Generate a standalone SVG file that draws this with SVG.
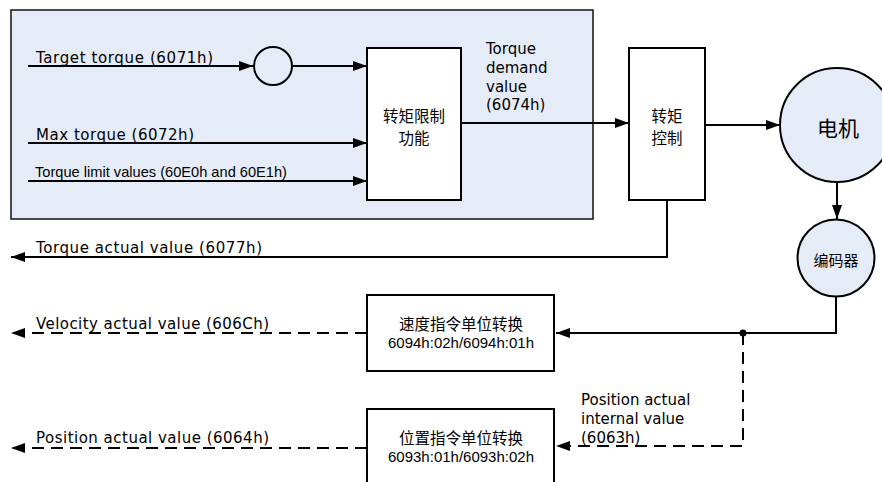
<svg xmlns="http://www.w3.org/2000/svg" width="882" height="482" viewBox="0 0 882 482">
<style>
.ln{stroke:#000;stroke-width:2;fill:none}
.dash{stroke:#000;stroke-width:2;fill:none;stroke-dasharray:12 7}
.box{fill:#fff;stroke:#000;stroke-width:2}
.bl{fill:#e6ecf7;stroke:#000;stroke-width:2}
.lab{font-family:"DejaVu Sans",Verdana,sans-serif;font-size:15px;fill:#000}
.cjk{font-family:"Noto Sans CJK SC","Noto Sans",sans-serif;fill:#000;text-anchor:middle}
.num{font-family:"Liberation Sans",Arial,sans-serif;font-size:15px;fill:#000;text-anchor:middle}
</style>
<defs>
<marker id="ah" markerUnits="userSpaceOnUse" markerWidth="15" markerHeight="11" refX="14" refY="5" orient="auto">
<path d="M0,0 L14,5 L0,10 z" fill="#000"/>
</marker>
</defs>
<rect x="0" y="0" width="882" height="482" fill="#fff"/>
<g id="area"><rect x="11" y="10" width="582" height="209" fill="#e6ecf7" stroke="#111" stroke-width="1.5"/></g>

<g id="connectors">
<line class="ln" x1="28" y1="66" x2="253" y2="66" marker-end="url(#ah)"/>
<line class="ln" x1="292" y1="66" x2="367" y2="66" marker-end="url(#ah)"/>
<line class="ln" x1="28" y1="143" x2="367" y2="143" marker-end="url(#ah)"/>
<line class="ln" x1="28" y1="181" x2="367" y2="181" marker-end="url(#ah)"/>
<line class="ln" x1="461" y1="123" x2="629" y2="123" marker-end="url(#ah)"/>
<line class="ln" x1="705" y1="125" x2="780" y2="125" marker-end="url(#ah)"/>
<line class="ln" x1="837" y1="182" x2="837" y2="219" marker-end="url(#ah)"/>
<polyline class="ln" points="667,200 667,257 11,257" marker-end="url(#ah)"/>
<polyline class="ln" points="836,297 836,333 556,333" marker-end="url(#ah)"/>
<circle cx="743" cy="333" r="3.5" fill="#000"/>
<polyline class="dash" points="743,333 743,446 556,446" marker-end="url(#ah)"/>
<line class="dash" x1="367" y1="333" x2="11" y2="333" marker-end="url(#ah)"/>
<line class="dash" x1="367" y1="448" x2="11" y2="448" marker-end="url(#ah)"/>
</g>

<g id="labels">
<text class="lab" x="36" y="63" textLength="177" lengthAdjust="spacing">Target torque (6071h)</text>
<text class="lab" x="36" y="140" textLength="158" lengthAdjust="spacing">Max torque (6072h)</text>
<text x="35" y="177" font-family="Liberation Sans, Arial, sans-serif" font-size="15" textLength="252" lengthAdjust="spacingAndGlyphs">Torque limit values (60E0h and 60E1h)</text>
<text class="lab" x="36" y="253" textLength="226" lengthAdjust="spacing">Torque actual value (6077h)</text>
<text class="lab" x="36" y="329" textLength="233" lengthAdjust="spacing">Velocity actual value (606Ch)</text>
<text class="lab" x="36" y="443" textLength="233" lengthAdjust="spacing">Position actual value (6064h)</text>
<g class="lab">
<text x="486" y="54">Torque</text>
<text x="486" y="73">demand</text>
<text x="486" y="92">value</text>
<text x="486" y="110">(6074h)</text>
</g>
<g class="lab">
<text x="581" y="405">Position actual</text>
<text x="581" y="424">internal value</text>
<text x="581" y="443">(6063h)</text>
</g>
</g>

<g id="sum"><circle cx="273" cy="66" r="19" fill="none" stroke="#000" stroke-width="2"/></g>

<g id="limit">
<rect class="box" x="367" y="48" width="94" height="152"/>
<text class="cjk" x="414" y="122" font-size="15.5">转矩限制</text>
<text class="cjk" x="414" y="144" font-size="15.5">功能</text>
</g>

<g id="torquectrl">
<rect class="box" x="629" y="48" width="76" height="152"/>
<text class="cjk" x="667" y="122" font-size="15.5">转矩</text>
<text class="cjk" x="667" y="144" font-size="15.5">控制</text>
</g>

<g id="motor">
<circle class="bl" cx="837" cy="125" r="57"/>
<text class="cjk" x="838" y="136" font-size="21">电机</text>
</g>

<g id="encoder">
<circle class="bl" cx="836" cy="258" r="38.5"/>
<text class="cjk" x="836" y="266" font-size="15">编码器</text>
</g>

<g id="velconv">
<rect class="box" x="367" y="295" width="187" height="76"/>
<text class="cjk" x="461" y="330" font-size="15.5">速度指令单位转换</text>
<text class="num" x="461" y="348">6094h:02h/6094h:01h</text>
</g>

<g id="posconv">
<rect class="box" x="367" y="409" width="187" height="80"/>
<text class="cjk" x="461" y="444" font-size="15.5">位置指令单位转换</text>
<text class="num" x="461" y="462">6093h:01h/6093h:02h</text>
</g>
</svg>
